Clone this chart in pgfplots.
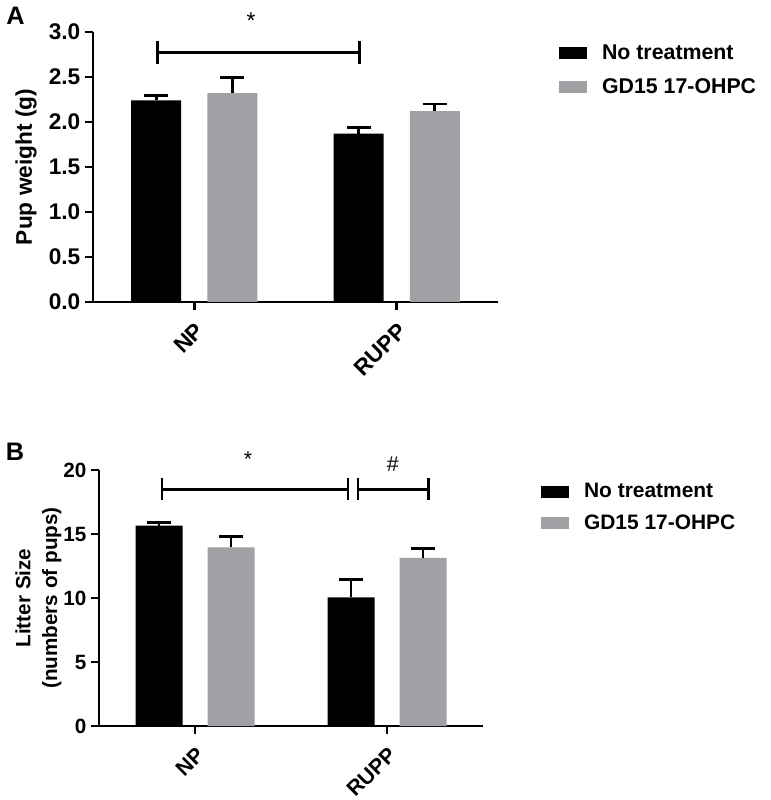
\documentclass[border=0pt]{standalone}
\usepackage{pgfplots}
\pgfplotsset{compat=1.18}
\usepackage{fontspec}
\setmainfont{Liberation Sans}
\definecolor{bargray}{RGB}{160,160,165}
\pgfplotsset{
  panel/.style={
    scale only axis, anchor=south west, clip=false,
    axis x line=bottom, axis y line=left, axis line style={-, line width=2.2pt, black},
    tick style={line width=2.2pt, black}, tick align=outside, major tick length=6pt,
    xmin=-0.5, xmax=1.5, ymin=0,
    xtick={0,1}, xticklabels={NP,RUPP},
    xticklabel style={rotate=45, anchor=north east, inner sep=1pt, yshift=-5pt, xshift=-5pt, font=\bfseries\fontsize{17}{20}\selectfont},
    yticklabel style={font=\bfseries\fontsize{17}{20}\selectfont},
    /pgf/number format/assume math mode=true,
    legend cell align=left,
  },
  blk/.style={legend image code/.code={\path[fill=black, draw=none] (0pt,-4.5pt) rectangle (21pt,4.5pt); \path[draw=none, fill=none] (0pt,-4.5pt) rectangle (30pt,4.5pt);}},
  gry/.style={legend image code/.code={\path[fill=bargray, draw=none] (0pt,-4.5pt) rectangle (21pt,4.5pt); \path[draw=none, fill=none] (0pt,-4.5pt) rectangle (30pt,4.5pt);}},
  eb/.style={error bars/.cd, y dir=plus, y explicit,
    error bar style={line width=2.2pt, black},
    error mark options={rotate=90, mark size=9pt, line width=2.2pt, black}},
}
\begin{document}
\begin{tikzpicture}
\path[use as bounding box] (0,0) rectangle (578.25pt,600pt);
\node[font=\bfseries\fontsize{19}{22}\selectfont] at (11.6pt,588.4pt) {A};
\node[font=\bfseries\fontsize{19}{22}\selectfont] at (11.25pt,261pt) {B};
% Panel A
\begin{axis}[panel, at={(69.75pt,373.5pt)}, width=303.75pt, height=202.5pt,
  ymax=3.0, ytick={0,0.5,...,3.0},
  yticklabel style={/pgf/number format/.cd, fixed, fixed zerofill, precision=1},
  ylabel={Pup weight (g)},
  ylabel style={font=\bfseries\fontsize{17}{20}\selectfont, at={(axis description cs:-0.165,0.5)}, anchor=center},
  legend style={at={(1.141,0.974)}, anchor=north west, draw=none, fill=none,
    font=\bfseries\fontsize{16}{19}\selectfont, row sep=9pt, cells={anchor=west}}]
\addplot[ybar, bar width=37.5pt, bar shift=0pt, fill=black, draw=none, blk, eb]
  coordinates {(-0.1877,2.24) +- (0,0.05) (0.8123,1.87) +- (0,0.07)};
\addlegendentry{No treatment}
\addplot[ybar, bar width=37.5pt, bar shift=0pt, fill=bargray, draw=none, gry, eb]
  coordinates {(0.1877,2.32) +- (0,0.17) (1.1877,2.12) +- (0,0.08)};
\addlegendentry{GD15 17-OHPC}
\addplot[black, line width=2.2pt, no markers, forget plot] coordinates {(-0.18,2.77) (0.815,2.77)};
\addplot[black, line width=2.2pt, no markers, forget plot] coordinates {(-0.18,2.645) (-0.18,2.895)};
\addplot[black, line width=2.2pt, no markers, forget plot] coordinates {(0.815,2.645) (0.815,2.895)};
\node[font=\fontsize{17}{20}\selectfont] at (axis cs:0.28,3.12) {*};
\end{axis}
% Panel B
\begin{axis}[panel, at={(74.25pt,55.5pt)}, width=288pt, height=192pt,
  ymax=20, ytick={0,5,10,15,20},
  yticklabel style={font=\bfseries\fontsize{15.5}{18}\selectfont},
  xticklabel style={font=\bfseries\fontsize{16}{19}\selectfont},
  ylabel={Litter Size\\(numbers of pups)},
  ylabel style={font=\bfseries\fontsize{15.5}{20}\selectfont, align=center, at={(axis description cs:-0.158,0.5)}, anchor=center},
  legend style={at={(1.141,0.969)}, anchor=north west, draw=none, fill=none,
    font=\bfseries\fontsize{15.7}{18.5}\selectfont, row sep=7pt, cells={anchor=west}}]
\addplot[ybar, bar width=35.25pt, bar shift=0pt, fill=black, draw=none, blk, eb]
  coordinates {(-0.1875,15.65) +- (0,0.25) (0.8125,10.05) +- (0,1.41)};
\addlegendentry{No treatment}
\addplot[ybar, bar width=35.25pt, bar shift=0pt, fill=bargray, draw=none, gry, eb]
  coordinates {(0.1875,13.96) +- (0,0.83) (1.1875,13.13) +- (0,0.72)};
\addlegendentry{GD15 17-OHPC}
\addplot[black, line width=2.2pt, no markers, forget plot] coordinates {(-0.172,18.5) (0.797,18.5)};
\addplot[black, line width=2.2pt, no markers, forget plot] coordinates {(-0.172,17.64) (-0.172,19.36)};
\addplot[black, line width=2.2pt, no markers, forget plot] coordinates {(0.797,17.64) (0.797,19.36)};
\addplot[black, line width=2.2pt, no markers, forget plot] coordinates {(0.849,18.5) (1.214,18.5)};
\addplot[black, line width=2.2pt, no markers, forget plot] coordinates {(0.849,17.64) (0.849,19.36)};
\addplot[black, line width=2.2pt, no markers, forget plot] coordinates {(1.214,17.64) (1.214,19.36)};
\node[font=\fontsize{16}{19}\selectfont] at (axis cs:0.276,20.86) {*};
\node[font=\fontsize{16}{19}\selectfont] at (axis cs:1.03,20.47) {\#};
\end{axis}
\end{tikzpicture}
\end{document}
